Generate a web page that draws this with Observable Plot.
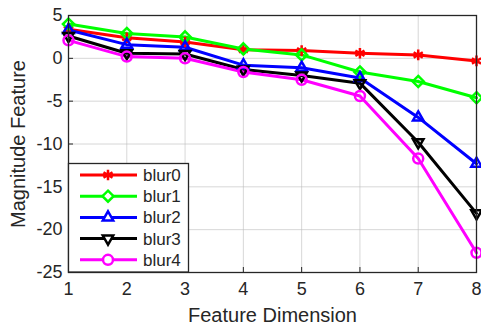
<!DOCTYPE html>
<html>
<head>
<meta charset="utf-8">
<script src="https://cdn.jsdelivr.net/npm/d3@7"></script>
<script src="https://cdn.jsdelivr.net/npm/@observablehq/plot@0.6"></script>
<style>
  html, body { margin: 0; padding: 0; background: #fff; }
  #chart { position: relative; width: 481px; height: 330px; }
</style>
</head>
<body>
<div id="chart"></div>
<script>
// Feature dimensions along the x axis
const dims = [1, 2, 3, 4, 5, 6, 7, 8];
const seriesNames = ["blur0", "blur1", "blur2", "blur3", "blur4"];
const seriesColors = ["#ff0000", "#00ff00", "#0000ff", "#000000", "#ff00ff"];
const seriesSymbols = ["asterisk", "diamond2", "triangle2", "triangle2", "circle"];
const seriesRotate = [0, 0, 0, 180, 0];

// Magnitude of each feature dimension per blur level
const blur0 = [3.4, 2.4, 1.9, 1.0, 0.9, 0.6, 0.4, -0.3];
const blur1 = [4.0, 2.9, 2.5, 1.1, 0.4, -1.6, -2.7, -4.6];
const blur2 = [3.3, 1.6, 1.3, -0.8, -1.1, -2.3, -6.9, -12.3];
const blur3 = [2.6, 0.6, 0.5, -1.3, -2.0, -2.9, -9.8, -18.1];
const blur4 = [2.1, 0.2, 0.0, -1.6, -2.5, -4.4, -11.7, -22.7];

const yTicks = [5, 0, -5, -10, -15, -20, -25];

const allValues = [blur0, blur1, blur2, blur3, blur4];
const rows = [];
seriesNames.forEach((name, i) => {
  dims.forEach((d, j) => rows.push({series: name, dim: d, value: allValues[i][j]}));
});

const font = "'Liberation Sans', Arial, sans-serif";
const axisColor = "#262626";
const plain = d => String(d); // hyphen-minus for negative ticks

const plot = Plot.plot({
  width: 481,
  height: 330,
  marginLeft: 68,
  marginRight: 5,
  marginTop: 15,
  marginBottom: 58,
  style: {fontFamily: font, fontSize: "18px", color: axisColor, background: "#fff"},
  x: {domain: [1, 8], ticks: dims, label: null},
  y: {domain: [-25, 5], ticks: yTicks, label: null},
  color: {domain: seriesNames, range: seriesColors},
  symbol: {domain: seriesNames, range: seriesSymbols},
  marks: [
    Plot.gridX(dims, {stroke: "#bdbdbd", strokeOpacity: 0.6, strokeWidth: 1}),
    Plot.gridY(yTicks, {stroke: "#bdbdbd", strokeOpacity: 0.6, strokeWidth: 1}),
    Plot.axisX(dims, {tickSize: 0, tickPadding: 10, fontSize: 18, tickFormat: plain}),
    Plot.axisY(yTicks, {tickSize: 0, tickPadding: 6, fontSize: 18, tickFormat: plain}),
    Plot.axisX(dims, {tickSize: -5, text: null, stroke: axisColor}),
    Plot.axisY(yTicks, {tickSize: -5, text: null, stroke: axisColor}),
    Plot.line(rows, {x: "dim", y: "value", z: "series", stroke: "series", strokeWidth: 3}),
    Plot.dot(rows, {
      x: "dim", y: "value", stroke: "series", symbol: "series",
      rotate: d => seriesRotate[seriesNames.indexOf(d.series)],
      r: 5, strokeWidth: 2.5, fill: d => d.series === "blur0" ? "#ff0000" : "none"
    }),
    Plot.frame({stroke: axisColor, strokeWidth: 1.3}),
    Plot.text(["Feature Dimension"], {frameAnchor: "bottom", dy: 49, fontSize: 20, fill: axisColor}),
    Plot.text(["Magnitude Feature"], {frameAnchor: "left", dx: -50, rotate: -90, textAnchor: "middle", fontSize: 20, fill: axisColor})
  ]
});

document.getElementById("chart").appendChild(plot);

// Legend box in the lower-left corner of the plot area
const svg = d3.select(plot);
const legend = svg.append("g").attr("font-family", font).attr("font-size", 17).attr("text-anchor", "start");
legend.append("rect")
  .attr("x", 68.5).attr("y", 163.5).attr("width", 120).attr("height", 108.5)
  .attr("fill", "#fff").attr("stroke", axisColor).attr("stroke-width", 1.3);
const sym = {
  asterisk: d3.symbolAsterisk, diamond2: d3.symbolDiamond2,
  triangle2: d3.symbolTriangle2, circle: d3.symbolCircle
};
seriesNames.forEach((name, i) => {
  const y = 175 + i * 21.2;
  const g = legend.append("g");
  g.append("line").attr("x1", 80).attr("x2", 137).attr("y1", y).attr("y2", y)
    .attr("stroke", seriesColors[i]).attr("stroke-width", 3);
  g.append("path")
    .attr("d", d3.symbol(sym[seriesSymbols[i]], 78)())
    .attr("transform", `translate(108,${y}) rotate(${seriesRotate[i]})`)
    .attr("stroke", seriesColors[i]).attr("stroke-width", 2.5)
    .attr("fill", i === 0 ? seriesColors[i] : "#fff");
  g.append("text").attr("x", 143).attr("y", y).attr("dy", "0.35em")
    .attr("fill", axisColor).text(name);
});
</script>
</body>
</html>
